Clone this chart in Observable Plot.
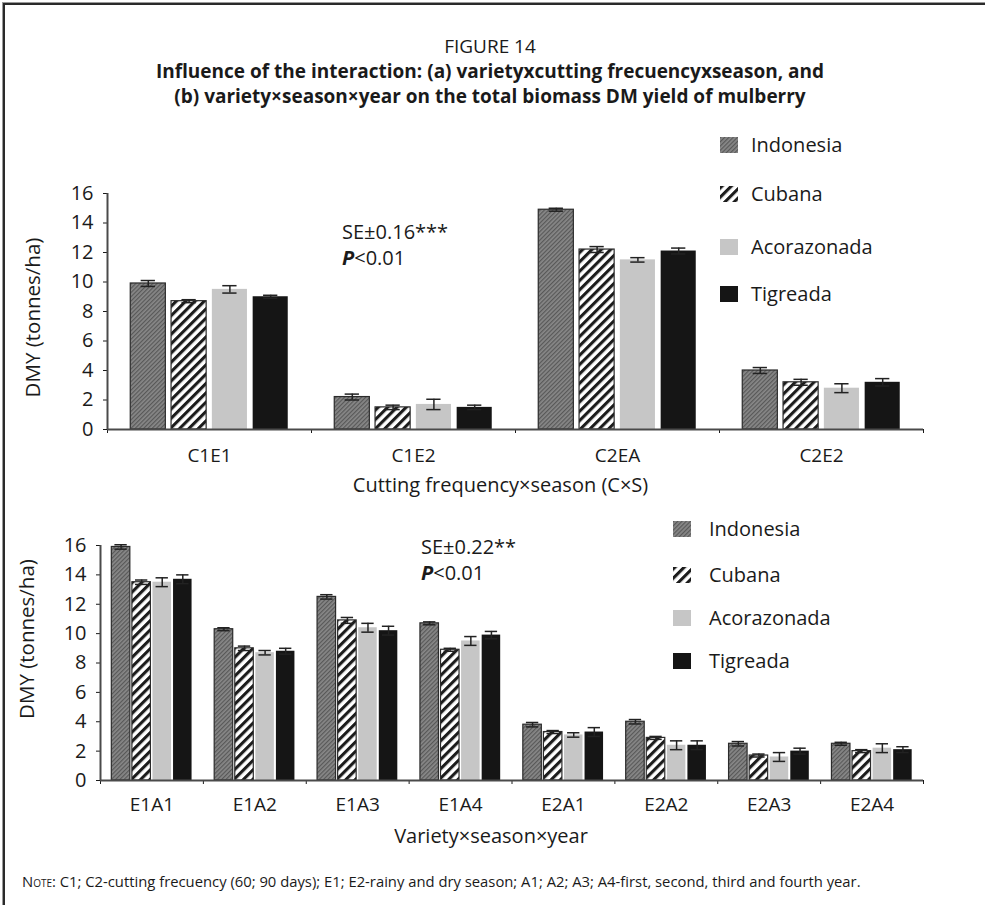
<!DOCTYPE html>
<html>
<head>
<meta charset="utf-8">
<script src="https://cdn.jsdelivr.net/npm/d3@7"></script>
<script src="https://cdn.jsdelivr.net/npm/@observablehq/plot@0.6"></script>
<style>
  html, body { margin: 0; padding: 0; background: #fff; }
  #fig { position: relative; width: 985px; height: 905px; overflow: hidden;
         font-family: "Open Sans", "DejaVu Sans", sans-serif; color: #1a1a1a; }
  #border { position: absolute; left: 3px; top: 3px; width: 1000px; height: 1000px;
            border-left: 2px solid #2a2a2a; border-top: 2px solid #2a2a2a;
            box-shadow: -1px -1px 0 #9a9a9a; }
  .line { position: absolute; left: 0; width: 980px; text-align: center; line-height: 24px; }
  .fignum { top: 34px; font-size: 19px; }
  .title { font-size: 19px; font-weight: 700; }
  .panel { position: absolute; left: 0; }
  .leg { position: absolute; display: flex; align-items: center; font-size: 20px; line-height: 26px; }
  .se { position: absolute; font-size: 20px; line-height: 26px; }
  .note { position: absolute; left: 22px; top: 871px; font-size: 14.8px; line-height: 20px; white-space: nowrap; }
  .note .sc { font-variant: small-caps; }
</style>
</head>
<body>
<svg width="0" height="0" style="position:absolute">
  <defs>
    <pattern id="fill-indonesia" width="3" height="3" patternUnits="userSpaceOnUse" patternTransform="rotate(45)">
      <rect width="3" height="3" fill="#888888"></rect>
      <rect width="1.2" height="3" fill="#585858"></rect>
    </pattern>
    <pattern id="fill-cubana" width="6.6" height="6.6" patternUnits="userSpaceOnUse" patternTransform="rotate(45)">
      <rect width="6.6" height="6.6" fill="#ffffff"></rect>
      <rect width="3.1" height="6.6" fill="#1c1c1c"></rect>
    </pattern>
  </defs>
</svg>
<div id="fig">
  <div id="border"></div>
  <div class="line fignum">FIGURE 14</div>
  <div class="line title" style="top:59px">Influence of the interaction: (a) varietyxcutting frecuencyxseason, and</div>
  <div class="line title" style="top:84px">(b) variety×season×year on the total biomass DM yield of mulberry</div>
  <div class="panel" id="panelA" style="top:130px"></div>
  <div class="panel" id="panelB" style="top:470px"></div>
  <div class="se" style="left:342px;top:219px">SE±0.16***<br><b><i>P</i></b>&lt;0.01</div>
  <div class="se" style="left:421px;top:534px">SE±0.22**<br><b><i>P</i></b>&lt;0.01</div>
  <div id="legendA"></div>
  <div id="legendB"></div>
  <div class="note"><span class="sc">Note</span>: C1; C2-cutting frecuency (60; 90 days); E1; E2-rainy and dry season; A1; A2; A3; A4-first, second, third and fourth year.</div>
</div>
<script>
// Varieties and their bar fills
const varieties = ["Indonesia", "Cubana", "Acorazonada", "Tigreada"];
const fills = ["url(#fill-indonesia)", "url(#fill-cubana)", "#c6c6c6", "#151515"];

// (a) variety × cutting frequency × season — DMY (tonnes/ha)
const categoriesA = ["C1E1", "C1E2", "C2EA", "C2E2"];
const indonesiaA   = [9.9, 2.2, 14.9, 4.0];
const cubanaA      = [8.7, 1.5, 12.2, 3.2];
const acorazonadaA = [9.5, 1.7, 11.5, 2.8];
const tigreadaA    = [9.0, 1.5, 12.1, 3.2];
const errIndonesiaA   = [0.2, 0.2, 0.1, 0.2];
const errCubanaA      = [0.1, 0.15, 0.2, 0.2];
const errAcorazonadaA = [0.25, 0.35, 0.15, 0.3];
const errTigreadaA    = [0.1, 0.15, 0.2, 0.25];

// (b) variety × season × year — DMY (tonnes/ha)
const categoriesB = ["E1A1", "E1A2", "E1A3", "E1A4", "E2A1", "E2A2", "E2A3", "E2A4"];
const indonesiaB   = [15.9, 10.3, 12.5, 10.7, 3.8, 4.0, 2.5, 2.5];
const cubanaB      = [13.5, 9.0, 10.9, 8.9, 3.3, 2.9, 1.7, 2.0];
const acorazonadaB = [13.5, 8.7, 10.4, 9.5, 3.1, 2.4, 1.6, 2.2];
const tigreadaB    = [13.7, 8.8, 10.2, 9.9, 3.3, 2.4, 2.0, 2.1];
const errIndonesiaB   = [0.15, 0.1, 0.15, 0.1, 0.15, 0.15, 0.15, 0.1];
const errCubanaB      = [0.15, 0.15, 0.2, 0.1, 0.1, 0.1, 0.1, 0.1];
const errAcorazonadaB = [0.3, 0.15, 0.3, 0.3, 0.15, 0.3, 0.3, 0.3];
const errTigreadaB    = [0.3, 0.2, 0.3, 0.25, 0.3, 0.3, 0.2, 0.2];

const yTicks = [0, 2, 4, 6, 8, 10, 12, 14, 16];
const yTitle = "DMY (tonnes/ha)";

function rowsFor(categories, series, errors) {
  return categories.flatMap((category, ci) =>
    varieties.map((variety, vi) => ({
      category, ci, variety, vi,
      value: series[vi][ci],
      err: errors[vi][ci]
    })));
}

function panel({categories, series, errors, width, height, marginLeft, marginRight, marginTop, marginBottom,
                xTitle, halfWidth, step, cap, labelDy, xTitleDx, yTitleDx, yTitleDy}) {
  const rows = rowsFor(categories, series, errors);
  const pos = d => d.ci + (d.vi - 1.5) * step;
  const seps = d3.range(categories.length + 1).map(i => i - 0.5);
  const labels = categories.map((c, i) => ({c, i}));
  return Plot.plot({
    width, height, marginLeft, marginRight, marginTop, marginBottom,
    style: {fontFamily: "Open Sans, DejaVu Sans, sans-serif", fontSize: "20px", color: "#1a1a1a", background: "transparent"},
    x: {domain: [-0.5, categories.length - 0.5], ticks: seps, tickFormat: () => "", tickSize: 4, label: null},
    y: {domain: [0, 16], ticks: yTicks, tickSize: 4, tickPadding: 10, label: null},
    color: {domain: varieties, range: fills},
    marks: [
      Plot.rect(rows, {x1: d => pos(d) - halfWidth, x2: d => pos(d) + halfWidth, y1: 0, y2: "value", fill: "variety"}),
      Plot.rect(rows.filter(d => d.vi < 2), {x1: d => pos(d) - halfWidth, x2: d => pos(d) + halfWidth, y1: 0, y2: "value",
        fill: "none", stroke: "#2b2b2b", strokeWidth: 1.2}),
      Plot.ruleX(rows, {x: pos, y1: d => d.value - d.err, y2: d => d.value + d.err, stroke: "#222", strokeWidth: 1.5}),
      Plot.ruleY(rows, {y: d => d.value + d.err, x1: d => pos(d) - cap, x2: d => pos(d) + cap, stroke: "#222", strokeWidth: 1.5}),
      Plot.ruleY(rows, {y: d => d.value - d.err, x1: d => pos(d) - cap, x2: d => pos(d) + cap, stroke: "#222", strokeWidth: 1.5}),
      Plot.ruleX([-0.5], {stroke: "#4a4a4a", strokeWidth: 2}),
      Plot.ruleY([0], {stroke: "#4a4a4a", strokeWidth: 2}),
      Plot.text(labels, {x: "i", y: 0, text: "c", dy: labelDy, fontSize: 19, fill: "#1a1a1a"}),
      Plot.text([xTitle], {frameAnchor: "bottom", dx: xTitleDx, dy: 62, fontSize: 20, fill: "#1a1a1a"}),
      Plot.text([yTitle], {frameAnchor: "left", textAnchor: "middle", rotate: -90, dx: yTitleDx, dy: yTitleDy,
        fontSize: 20.5, fill: "#1a1a1a"})
    ]
  });
}

document.getElementById("panelA").append(panel({
  categories: categoriesA,
  series: [indonesiaA, cubanaA, acorazonadaA, tigreadaA],
  errors: [errIndonesiaA, errCubanaA, errAcorazonadaA, errTigreadaA],
  width: 985, height: 370, marginLeft: 107, marginRight: 62, marginTop: 63, marginBottom: 71,
  xTitle: "Cutting frequency×season (C×S)", halfWidth: 0.086, step: 0.2, cap: 0.035, labelDy: 26,
  xTitleDx: -15, yTitleDx: -74, yTitleDy: 6
}));

document.getElementById("panelB").append(panel({
  categories: categoriesB,
  series: [indonesiaB, cubanaB, acorazonadaB, tigreadaB],
  errors: [errIndonesiaB, errCubanaB, errAcorazonadaB, errTigreadaB],
  width: 985, height: 390, marginLeft: 100, marginRight: 62, marginTop: 75, marginBottom: 80,
  xTitle: "Variety×season×year", halfWidth: 0.09, step: 0.2, cap: 0.06, labelDy: 24,
  xTitleDx: -21, yTitleDx: -73, yTitleDy: -24
}));

// Legends drawn next to each panel
function legend(el, left, gap, tops) {
  varieties.forEach((v, i) => {
    const item = document.createElement("div");
    item.className = "leg";
    item.style.left = left + "px";
    item.style.top = (tops[i] - 13) + "px";
    item.innerHTML = `<svg width="18" height="16" style="margin-right:${gap}px"><rect width="18" height="16" fill="${fills[i]}"></rect></svg><span>${v}</span>`;
    el.append(item);
  });
}
legend(document.getElementById("legendA"), 720, 13, [145, 194, 247, 294]);
legend(document.getElementById("legendB"), 673, 18, [529, 575, 618, 661]);
</script>
</body>
</html>
